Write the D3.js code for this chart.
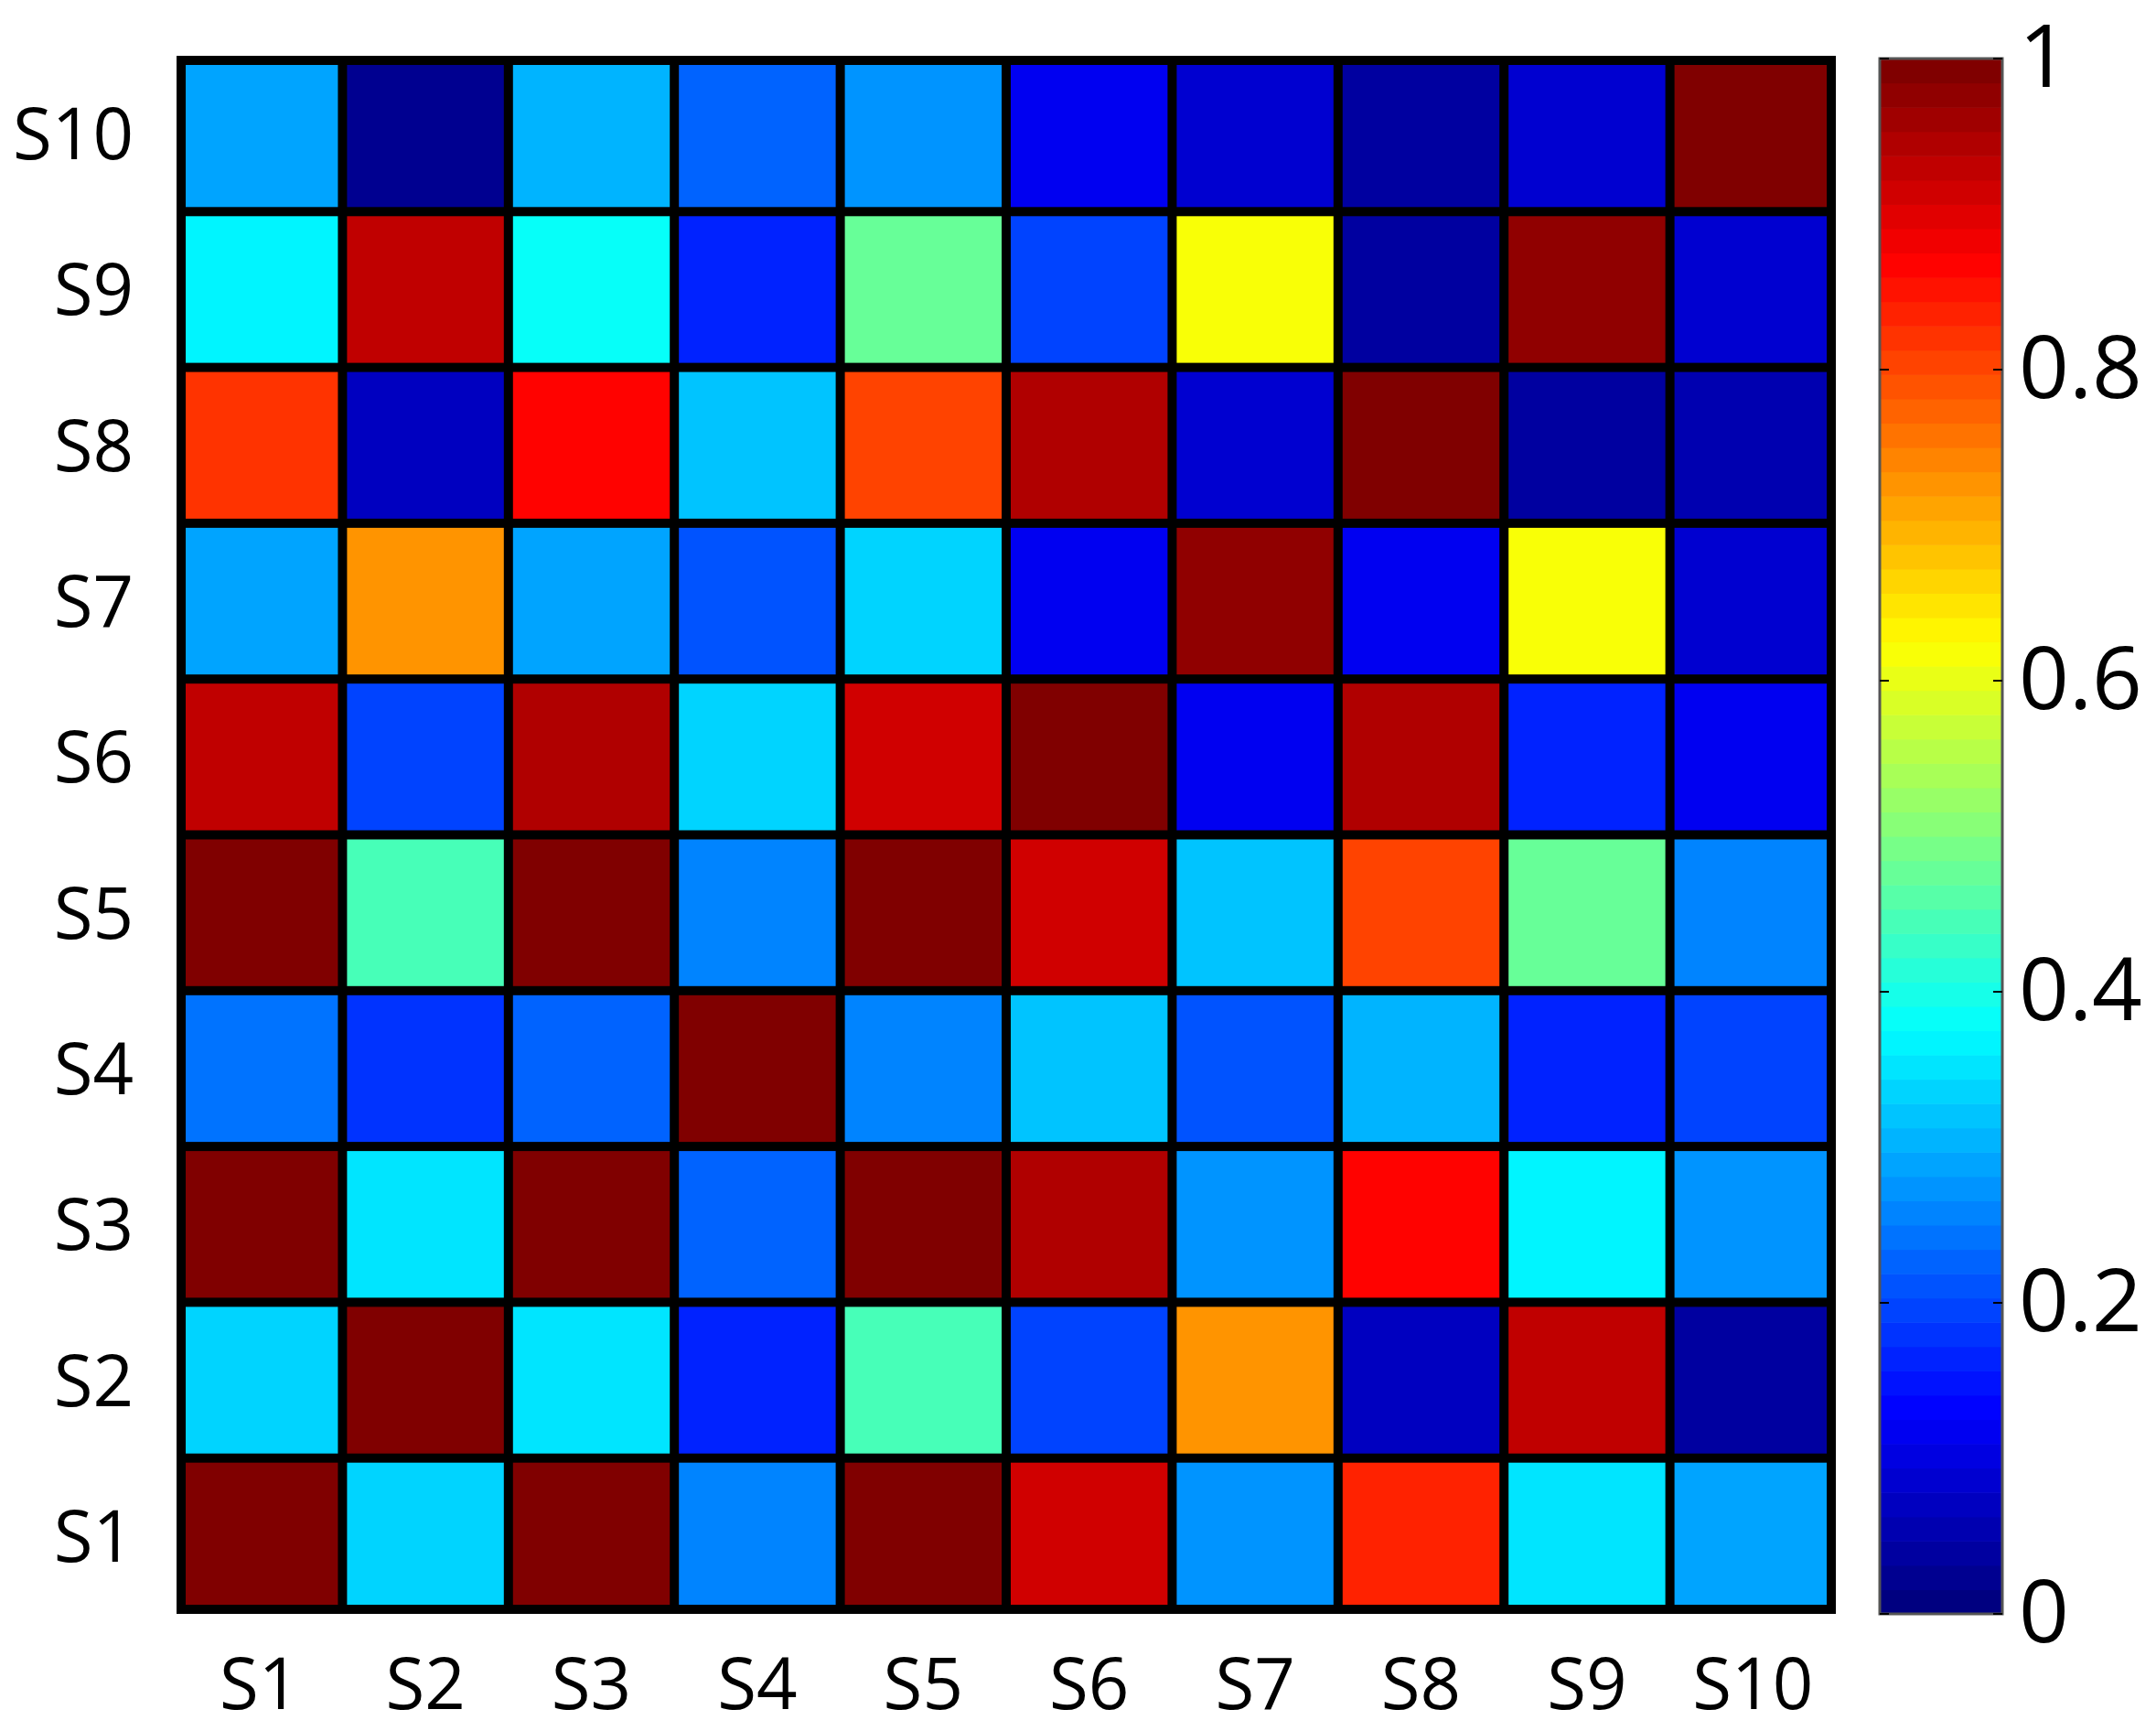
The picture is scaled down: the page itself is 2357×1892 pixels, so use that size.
<!DOCTYPE html><html><head><meta charset="utf-8">
<script src="https://cdn.jsdelivr.net/npm/d3@7"></script>
<style>body{margin:0;background:#fff}</style></head><body>
<svg id="c" width="2357" height="1892"></svg>
<script>
const xLabels=["S1","S2","S3","S4","S5","S6","S7","S8","S9","S10"];
const yLabels=["S1","S2","S3","S4","S5","S6","S7","S8","S9","S10"];
// rows: S1..S10, columns S1..S10
const values=[
[1.00,0.33,1.00,0.26,1.00,0.92,0.27,0.83,0.35,0.29],
[0.33,0.99,0.35,0.17,0.44,0.19,0.72,0.07,0.93,0.04],
[1.00,0.35,1.00,0.22,1.00,0.95,0.27,0.86,0.37,0.28],
[0.24,0.18,0.23,1.00,0.25,0.32,0.21,0.31,0.17,0.20],
[1.00,0.44,1.00,0.25,1.00,0.92,0.32,0.81,0.47,0.26],
[0.93,0.20,0.94,0.33,0.92,0.99,0.12,0.95,0.17,0.12],
[0.29,0.72,0.29,0.21,0.33,0.12,0.98,0.11,0.62,0.08],
[0.82,0.07,0.86,0.32,0.81,0.95,0.09,1.00,0.04,0.05],
[0.36,0.93,0.38,0.17,0.47,0.19,0.62,0.04,0.98,0.09],
[0.29,0.03,0.30,0.22,0.27,0.12,0.08,0.04,0.09,1.00]
];
const cbTicks=[0,0.2,0.4,0.6,0.8,1];
function jet(v){v=Math.max(0,Math.min(1,v));v=Math.min(63,Math.floor(v*64))/63;
 const f=t=>Math.max(0,Math.min(1,1.5-Math.abs(4*v-t)));
 return d3.rgb(255*f(3),255*f(2),255*f(1)).toString();}
const svg=d3.select("#c");
const L=193,R=2007,T=61,B=1764;
const x=d3.scaleBand().domain(xLabels).range([L,R]);
const y=d3.scaleBand().domain(yLabels).range([B,T]);
svg.append("rect").attr("x",L).attr("y",T).attr("width",R-L).attr("height",B-T).attr("fill","#000");
const g=5;
values.forEach((row,i)=>row.forEach((v,j)=>{
 svg.append("rect").attr("x",x(xLabels[j])+g+5*(j==0)).attr("y",y(yLabels[i])+g+5*(i==9))
 .attr("width",x.bandwidth()-2*g-5*(j==0)-5*(j==9)).attr("height",y.bandwidth()-2*g-5*(i==9)-5*(i==0)).attr("fill",jet(v));
}));
const font="'Open Sans', 'DejaVu Sans', sans-serif";
svg.selectAll(".yl").data(yLabels).join("text").attr("x",146).attr("y",d=>y(d)+y.bandwidth()/2+28)
 .attr("text-anchor","end").attr("font-family",font).attr("font-size",78).text(d=>d);
svg.selectAll(".xl").data(xLabels).join("text").attr("x",d=>x(d)+x.bandwidth()/2).attr("y",1868)
 .attr("text-anchor","middle").attr("font-family",font).attr("font-size",78).text(d=>d);
// colorbar
const cx0=2055,cx1=2189,cT=64,cB=1764;
const cy=d3.scaleLinear().domain([0,1]).range([cB,cT]);
d3.range(64).forEach(k=>{
 svg.append("rect").attr("x",cx0).attr("width",cx1-cx0).attr("y",cy((k+1)/64)).attr("height",cy(k/64)-cy((k+1)/64)+0.6).attr("fill",jet((k+0.5)/64));
});
svg.append("rect").attr("x",cx0).attr("y",cT).attr("width",cx1-cx0).attr("height",cB-cT).attr("fill","none").attr("stroke","#555").attr("stroke-width",3);
const ax=svg.append("g").attr("transform",`translate(${cx1},0)`).call(d3.axisRight(cy).tickValues(cbTicks).tickSize(0).tickPadding(18).tickFormat(d3.format("")));
ax.select(".domain").remove();
ax.selectAll("text").attr("font-family",font).attr("font-size",96).attr("fill","#000");
cbTicks.forEach(t=>{[cx0,cx1].forEach((xx,s)=>svg.append("line").attr("x1",xx).attr("x2",xx+(s?-10:10)).attr("y1",cy(t)).attr("y2",cy(t)).attr("stroke","#000").attr("stroke-width",2));});
</script></body></html>
